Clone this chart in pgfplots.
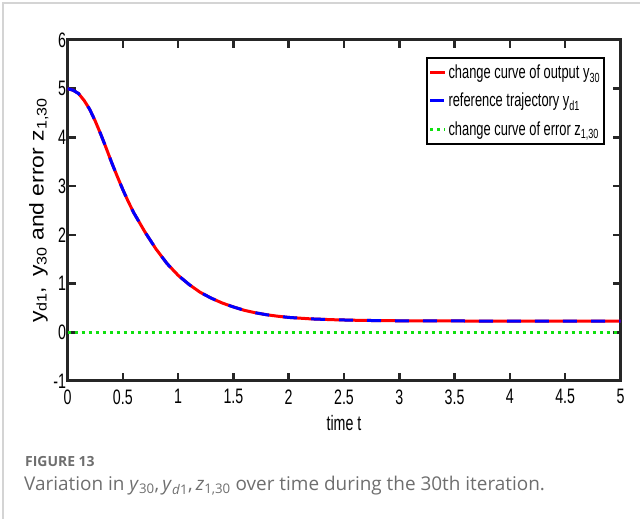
\documentclass[border=0pt]{standalone}
\usepackage{fontspec}
\setmainfont{Liberation Sans}[FakeStretch=0.68]
\newfontfamily\ylfont{Liberation Sans}[FakeStretch=1.15]
\newfontfamily\capfont{Open Sans}
\usepackage{pgfplots}
\usepackage{pgfplotstable}
\pgfplotsset{compat=1.18}
\definecolor{axgray}{HTML}{262626}
\definecolor{capgray}{HTML}{6E6E6E}
\definecolor{mygreen}{HTML}{10E010}
\definecolor{framegray}{HTML}{D4D4D4}

\pgfplotstableread{
t y
0 5.00
0.05 4.97
0.1 4.90
0.15 4.76
0.2 4.58
0.25 4.34
0.3 4.07
0.35 3.78
0.4 3.48
0.45 3.20
0.5 2.93
0.55 2.68
0.6 2.45
0.7 2.06
0.8 1.71
0.9 1.41
1.0 1.17
1.1 0.98
1.2 0.82
1.3 0.70
1.4 0.60
1.5 0.52
1.6 0.45
1.7 0.40
1.8 0.36
1.9 0.33
2.0 0.305
2.2 0.275
2.4 0.258
2.6 0.247
2.8 0.240
3.0 0.236
3.5 0.232
4.0 0.230
4.5 0.230
5.0 0.230
}\outdata

\pgfplotstableread{
t z
0 0
5 0
}\errdata

\begin{document}
\begin{tikzpicture}
\path[use as bounding box] (0bp,0bp) rectangle (640bp,519bp);
\draw[framegray, line width=1.2bp] (3bp,0bp) -- (3bp,516bp) -- (640bp,516bp);
\begin{axis}[
  at={(67.5bp,138bp)}, anchor=south west,
  scale only axis, width=553bp, height=341bp,
  xmin=0, xmax=5, ymin=-1, ymax=6,
  xtick={0,0.5,...,5}, ytick={-1,0,...,6},
  xticklabels={0,0.5,1,1.5,2,2.5,3,3.5,4,4.5,5},
  yticklabels={-1,0,1,2,3,4,5,6},
  tick align=inside, xtick pos=both, ytick pos=both,
  major tick length=8bp,
  axis line style={line width=3bp, color=axgray},
  tick style={line width=2.5bp, color=axgray},
  ticklabel style={font=\fontsize{21}{21}\selectfont, text=black},
  xticklabel style={yshift=-5bp},
  yticklabel style={xshift=2bp},
  /pgf/number format/assume math mode=true,
  xlabel={time t},
  xlabel style={font=\fontsize{21}{21}\selectfont, yshift=-4bp},
  ylabel={y\textsubscript{d1},\enspace y\textsubscript{30} and error z\textsubscript{1,30}},
  ylabel style={font=\ylfont\fontsize{20}{20}\selectfont, yshift=-2bp},
  legend style={at={(0.972,0.95)}, anchor=north east, draw=black, line width=2bp,
    font=\fontsize{19}{19}\selectfont, inner xsep=2bp, inner ysep=5bp,
    row sep=9bp, /tikz/every even column/.append style={column sep=0bp}},
  legend cell align=left,
  clip=true,
]
\addplot[red, line width=3bp,
  legend image code/.code={\draw[red, line width=3bp] (0bp,0bp) -- (15bp,0bp);}]
  table[x=t,y=y]{\outdata};
\addlegendentry{change curve of output y\textsubscript{30}}
\addplot[blue, line width=3bp, dash pattern=on 14bp off 14bp,
  legend image code/.code={\draw[blue, line width=3bp] (0bp,0bp) -- (15bp,0bp);}]
  table[x=t,y=y]{\outdata};
\addlegendentry{reference trajectory y\textsubscript{d1}}
\addplot[mygreen, line width=3bp, dash pattern=on 3bp off 4bp,
  legend image code/.code={\draw[mygreen, line width=3bp, dash pattern=on 3bp off 4bp] (0bp,0bp) -- (15bp,0bp);}]
  table[x=t,y=z]{\errdata};
\addlegendentry{change curve of error z\textsubscript{1,30}}
\end{axis}
\node[anchor=base west, inner sep=0pt, text=capgray, font=\capfont\bfseries\fontsize{14}{14}\selectfont] at (25bp,52bp) {FIGURE 13};
\node[anchor=base west, inner sep=0pt, text=capgray, font=\capfont\fontsize{19}{19}\selectfont] at (24bp,29bp) {Variation in \textit{y}\textsubscript{30},\,\textit{y}\textsubscript{\textit{d}1},\,\textit{z}\textsubscript{1,30} over time during the 30th iteration.};
\end{tikzpicture}
\end{document}
